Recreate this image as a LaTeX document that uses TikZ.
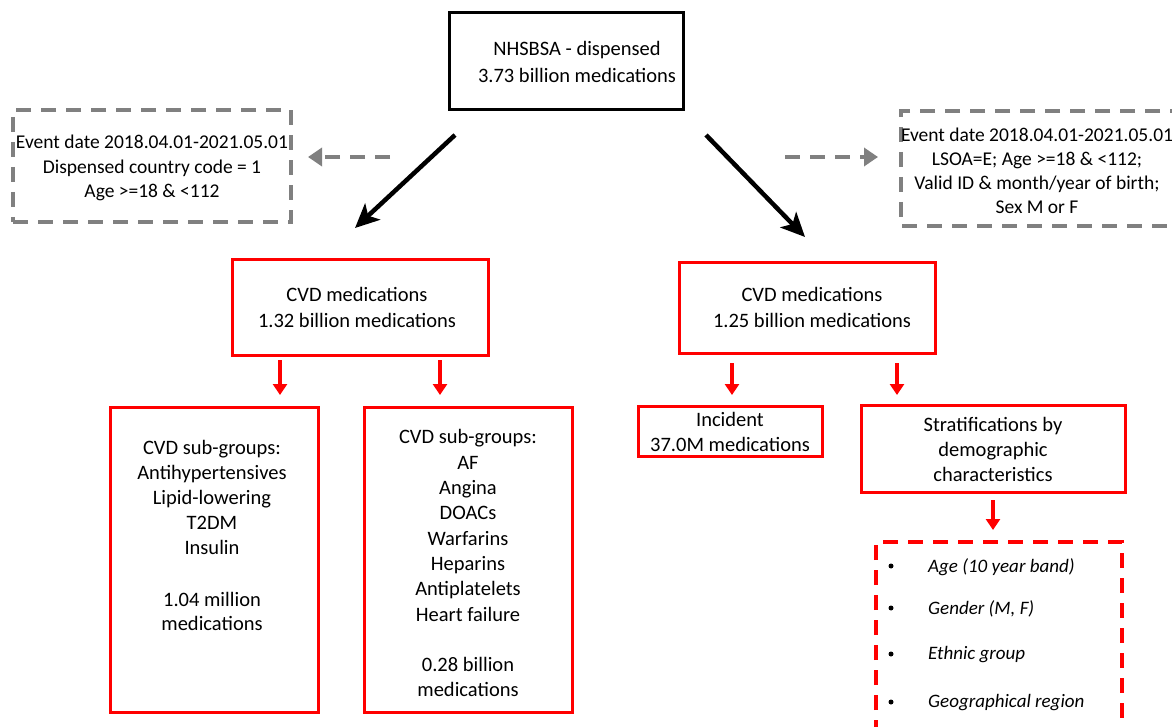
\documentclass[tikz,border=0pt]{standalone}
\usepackage{fontspec}
\setmainfont{Carlito}
\usetikzlibrary{arrows.meta}
\definecolor{dgrey}{RGB}{128,128,128}
\definecolor{pred}{RGB}{255,0,0}
\begin{document}
\begin{tikzpicture}[x=1pt,y=-1pt,
  txt/.style={align=center, inner sep=0pt, font=\fontsize{20.5}{25.5}\selectfont},
  gtxt/.style={align=center, inner sep=0pt, font=\fontsize{19.5}{24.5}\selectfont},
  blackbox/.style={draw=black, line width=3pt, inner sep=0pt, outer sep=0pt},
  redbox/.style={draw=pred, line width=3pt, inner sep=0pt, outer sep=0pt},
  greydash/.style={draw=dgrey, line width=4pt, dash pattern=on 15pt off 10pt},
  reddash/.style={draw=pred, line width=4pt, dash pattern=on 15pt off 10pt},
  blackarr/.style={draw=black, line width=4.5pt, -{Stealth[length=24pt,width=22pt,inset=6pt]}},
  greyarr/.style={draw=dgrey, line width=4.5pt, dash pattern=on 15pt off 10pt, -{Triangle[length=14pt,width=18pt]}},
  redarr/.style={draw=pred, line width=4pt, -{Triangle[length=11pt,width=14pt]}},
  item/.style={anchor=west, inner sep=0pt, font=\fontsize{19}{23}\selectfont\itshape},
  bul/.style={circle, fill=black, inner sep=0pt, minimum size=5pt}
]
\useasboundingbox (0,0) rectangle (1172,727);

% boxes
\node[blackbox, minimum width=234pt, minimum height=97pt] (top) at (566,61.5) {};
\node[txt, font=\fontsize{20.5}{27}\selectfont] (toptxt) at (577,61.5) {NHSBSA - dispensed\\3.73 billion medications};

\node[greydash, minimum width=278pt, minimum height=112pt, inner sep=0pt] (gl) at (152,166) {};
\node[gtxt] (gltxt) at (152,168) {Event date 2018.04.01-2021.05.01\\Dispensed country code = 1\\Age >=18 \& <112};

\draw[greydash] (1185,111) -- (901,111) -- (901,226) -- (1185,226);
\coordinate (gr) at (901,168);
\node[gtxt, font=\fontsize{19.5}{24}\selectfont] (grtxt) at (1037,171) {Event date 2018.04.01-2021.05.01\\LSOA=E; Age >=18 \& <112;\\Valid ID \& month/year of birth;\\Sex M or F};

\node[redbox, minimum width=256pt, minimum height=95pt] (cvdl) at (360,307.5) {};
\node[txt, font=\fontsize{20.5}{26}\selectfont] at (357,307) {CVD medications\\1.32 billion medications};

\node[redbox, minimum width=256pt, minimum height=90pt] (cvdr) at (807,308) {};
\node[txt, font=\fontsize{20.5}{26}\selectfont] at (812,307) {CVD medications\\1.25 billion medications};

\node[redbox, minimum width=208pt, minimum height=305pt] (b1) at (214,559.5) {};
\node[txt, font=\fontsize{20.5}{25}\selectfont] at (212,497) {CVD sub-groups:\\Antihypertensives\\Lipid-lowering\\T2DM\\Insulin};
\node[txt, font=\fontsize{20.5}{23.5}\selectfont] at (212,611.5) {1.04 million\\medications};

\node[redbox, minimum width=208pt, minimum height=305pt] (b2) at (468,559.5) {};
\node[txt, font=\fontsize{20.5}{25.3}\selectfont] at (468,525.5) {CVD sub-groups:\\AF\\Angina\\DOACs\\Warfarins\\Heparins\\Antiplatelets\\Heart failure};
\node[txt, font=\fontsize{20.5}{25}\selectfont] at (468,676.5) {0.28 billion\\medications};

\node[redbox, minimum width=184pt, minimum height=50pt] (inc) at (730,431) {};
\node[txt, font=\fontsize{20.5}{25}\selectfont] at (730,431.5) {Incident\\37.0M medications};

\node[redbox, minimum width=264pt, minimum height=87pt] (strat) at (993,448.5) {};
\node[txt, font=\fontsize{20.5}{25}\selectfont] at (993,449) {Stratifications by\\demographic\\characteristics};

\draw[reddash] (876,735) -- (876,542) -- (1122,542) -- (1122,735);
\coordinate (dtop) at (993,542);

\node[bul] at (891,566) {};
\node[item] at (928,567) {Age (10 year band)};
\node[bul] at (891,608) {};
\node[item] at (928,609) {Gender (M, F)};
\node[bul] at (891,654) {};
\node[item] at (928,655) {Ethnic group};
\node[bul] at (891,702) {};
\node[item] at (928,703) {Geographical region};

% connectors
\coordinate (a1s) at (455,135);
\coordinate (a1e) at (355,228);
\coordinate (a2s) at (706,135);
\coordinate (a2e) at (805,237);
\draw[blackarr] (a1s) -- (a1e);
\draw[blackarr] (a2s) -- (a2e);

\coordinate (g1s) at (390,157);
\coordinate (g1e) at (308,157);
\coordinate (g2s) at (785,157);
\coordinate (g2e) at (878,157);
\draw[greyarr] (g1s) -- (g1e);
\draw[greyarr] (g2s) -- (g2e);

\coordinate (x1) at (280,0);
\coordinate (x2) at (440,0);
\coordinate (x3) at (732,0);
\coordinate (x4) at (897,0);
\draw[redarr, shorten <=5pt, shorten >=12pt] (cvdl.south -| x1) -- (b1.north -| x1);
\draw[redarr, shorten <=5pt, shorten >=12pt] (cvdl.south -| x2) -- (b2.north -| x2);
\draw[redarr, shorten <=10pt, shorten >=11pt] (cvdr.south -| x3) -- (inc.north -| x3);
\draw[redarr, shorten <=10pt, shorten >=10pt] (cvdr.south -| x4) -- (strat.north -| x4);
\draw[redarr, shorten <=8pt, shorten >=12pt] (strat.south) -- (dtop);
\end{tikzpicture}
\end{document}
